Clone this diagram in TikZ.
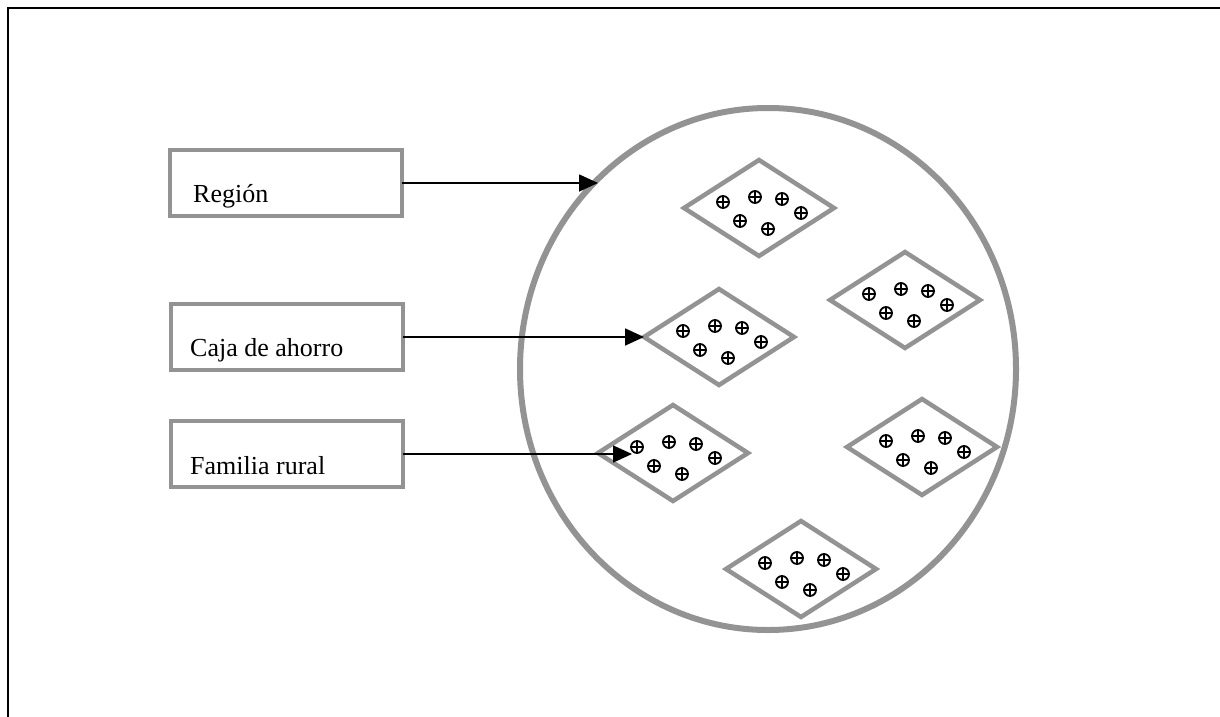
\documentclass[tikz,border=0pt]{standalone}
\usepackage{fontspec}
\setmainfont{Liberation Serif}
\usetikzlibrary{shapes.geometric,arrows.meta}
\definecolor{rim}{HTML}{939393}
\begin{document}
\begin{tikzpicture}[x=1pt,y=-1pt,
  labelbox/.style={draw=rim, line width=3.5pt, minimum width=232pt, minimum height=66pt, inner sep=0pt, outer sep=0pt},
  cell/.style={diamond, draw=rim, line width=4.5pt, minimum width=150pt, minimum height=96pt, inner sep=0pt, outer sep=0pt},
  link/.style={line width=1.7pt, -{Triangle[length=19pt,width=17pt]}},
  lbl/.style={anchor=base west, font=\fontsize{26}{30}\selectfont, inner sep=0pt},
  member/.pic={\draw[line width=1.8pt] (0,0) circle (6pt) (-6pt,0) -- (6pt,0) (0,-6pt) -- (0,6pt);}
]
\useasboundingbox (0,0) rectangle (1220,717);

% page frame
\draw[line width=2.5pt] (8,717) -- (8,8) -- (1220,8);

% the region
\node[draw=rim, line width=6pt, ellipse, minimum width=496pt, minimum height=522pt, inner sep=0pt, outer sep=0pt] (reg) at (768,369) {};

% savings groups
\node[cell] (d1) at (759,208) {};
\node[cell] (d2) at (905,300) {};
\node[cell] (d3) at (719,337) {};
\node[cell] (d4) at (673,453) {};
\node[cell] (d5) at (922,447) {};
\node[cell] (d6) at (801,569) {};

% families inside each group
\foreach \d in {d1,d2,d3,d4,d5,d6}{
  \foreach \dx/\dy in {-36/-6, -4/-11, 23/-9, 42/5, -19/13, 9/21}{
    \path (\d.center) ++(\dx,\dy) pic {member};
  }
}

% legend boxes
\node[labelbox] (rg) at (286,183) {};
\node[labelbox] (cj) at (287,337) {};
\node[labelbox] (fm) at (287,454) {};
\node[lbl] (rgt) at (193,202) {Región};
\node[lbl] (cjt) at (190,356) {Caja de ahorro};
\node[lbl] (fmt) at (190,474) {Familia rural};

% pointers
\coordinate (rtip) at (598,183);
\coordinate (ftip) at (632,454);
\draw[link] (rg.east) -- (rtip);
\draw[link] (cj.east) -- (d3.west);
\draw[link] (fm.east) -- (ftip);
\end{tikzpicture}
\end{document}
